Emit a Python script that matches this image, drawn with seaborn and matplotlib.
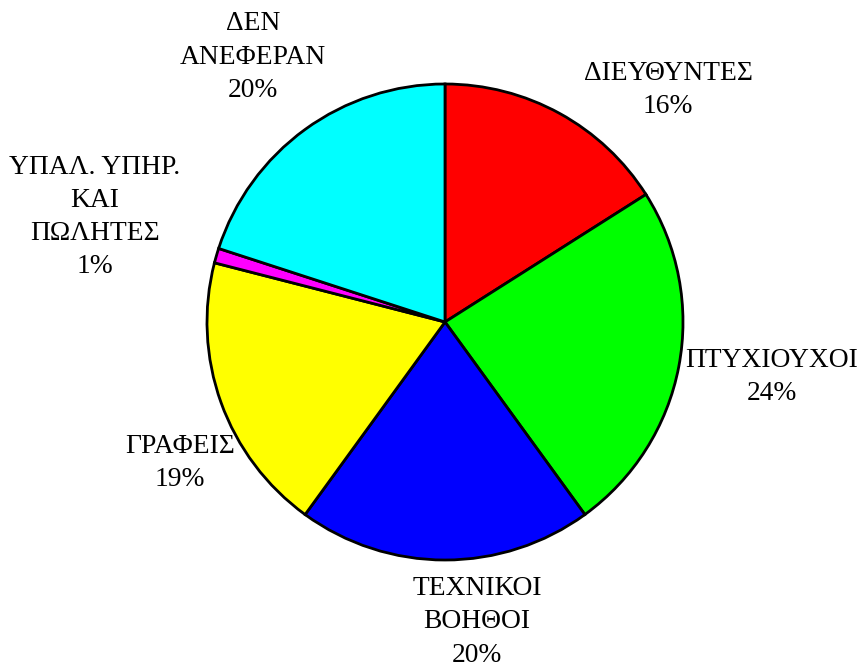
import matplotlib
matplotlib.use("Agg")
import matplotlib.pyplot as plt
import seaborn as sns

# Employee categories and their shares (%)
categories = ["ΔΙΕΥΘΥΝΤΕΣ", "ΠΤΥΧΙΟΥΧΟΙ", "ΤΕΧΝΙΚΟΙ\nΒΟΗΘΟΙ", "ΓΡΑΦΕΙΣ",
              "ΥΠΑΛ. ΥΠΗΡ.\nΚΑΙ\nΠΩΛΗΤΕΣ", "ΔΕΝ\nΑΝΕΦΕΡΑΝ"]
shares = [16, 24, 20, 19, 1, 20]
slice_colors = ["#FF0000", "#00FF00", "#0000FF", "#FFFF00", "#FF00FF", "#00FFFF"]

# Label centres in pixels (figure coordinates, origin top-left)
label_px = [(668, 90), (772, 377), (477, 622), (180, 463), (95, 217), (253, 57)]

sns.set_theme(style="white")
plt.rcParams["font.family"] = ["Liberation Serif", "DejaVu Serif"]

W, H, DPI = 859, 668, 100
CX, CY, R = 445, 322, 238

fig = plt.figure(figsize=(W / DPI, H / DPI), dpi=DPI)
fig.patch.set_facecolor("white")
ax = fig.add_axes([0, 0, 1, 1])

ax.pie(shares, colors=sns.color_palette(slice_colors), startangle=90,
       counterclock=False, radius=1.0, center=(0, 0),
       wedgeprops=dict(edgecolor="black", linewidth=2.0))

ax.set_xlim(-CX / R, (W - CX) / R)
ax.set_ylim(-(H - CY) / R, CY / R)
ax.set_aspect("equal", adjustable="datalim")
ax.axis("off")

for name, val, (px, py) in zip(categories, shares, label_px):
    ax.text((px - CX) / R, (CY - py) / R, f"{name}\n{val}%",
            ha="center", va="center", multialignment="center",
            fontsize=19.8, linespacing=1.43, color="black")

fig.savefig("out.png", dpi=DPI, facecolor="white")
